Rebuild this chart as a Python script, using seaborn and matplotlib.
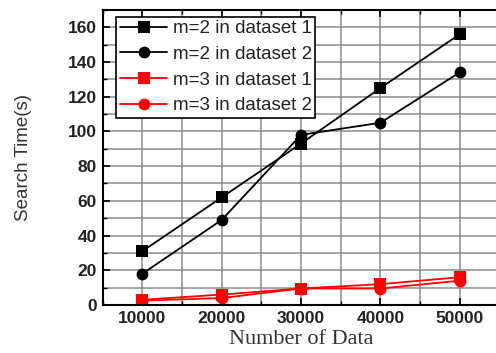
import matplotlib
matplotlib.use("Agg")
import matplotlib.pyplot as plt
import seaborn as sns
import pandas as pd
from matplotlib.ticker import MultipleLocator

num_data = [10000, 20000, 30000, 40000, 50000]
m2_ds1 = [31, 62, 93, 125, 156]
m2_ds2 = [18, 49, 98, 105, 134]
m3_ds1 = [3, 6, 9.5, 12, 16]
m3_ds2 = [2.5, 4, 9.5, 9.5, 14]
series_names = ["m=2 in dataset 1", "m=2 in dataset 2", "m=3 in dataset 1", "m=3 in dataset 2"]
xtick_labels = ["10000", "20000", "30000", "40000", "50000"]

rows = []
for name, vals in zip(series_names, [m2_ds1, m2_ds2, m3_ds1, m3_ds2]):
    for x, y in zip(num_data, vals):
        rows.append({"Number of Data": x, "Search Time(s)": y, "series": name})
df = pd.DataFrame(rows)

sns.set_theme(style="white")
plt.rcParams['font.family'] = ['Liberation Sans', 'DejaVu Sans']

fig = plt.figure(figsize=(4.96, 3.53), dpi=100)
ax = fig.add_axes([0.207, 0.136, 0.80, 0.836])

palette = {series_names[0]: "black", series_names[1]: "black",
           series_names[2]: "red", series_names[3]: "red"}
markers = {series_names[0]: "s", series_names[1]: "o",
           series_names[2]: "s", series_names[3]: "o"}

sns.lineplot(data=df, x="Number of Data", y="Search Time(s)", hue="series",
             style="series", palette=palette, markers=markers, dashes=False,
             markersize=8.5, linewidth=1.3, markeredgewidth=0, ax=ax,
             legend="full")

ax.set_xlim(5000, 55000)
ax.set_ylim(0, 170)
ax.set_xticks(num_data)
ax.set_xticklabels(xtick_labels)
ax.xaxis.set_minor_locator(MultipleLocator(5000))
ax.yaxis.set_major_locator(MultipleLocator(20))
ax.yaxis.set_minor_locator(MultipleLocator(10))

ax.grid(True, which="both", color="#8c8c8c", linewidth=1.1)
ax.set_axisbelow(True)

for s in ["left", "bottom", "top"]:
    ax.spines[s].set_visible(True)
    ax.spines[s].set_color("black")
    ax.spines[s].set_linewidth(1.5)
ax.spines["right"].set_visible(False)

ax.tick_params(axis="both", which="major", direction="in", length=5, width=1.2,
               top=True, left=True, bottom=True, color="black", pad=4)
ax.tick_params(axis="both", which="minor", direction="in", length=3, width=1.0,
               top=True, left=True, bottom=True, color="black")
for lbl in ax.get_xticklabels() + ax.get_yticklabels():
    lbl.set_fontweight("bold")
    lbl.set_fontsize(12.5)
    lbl.set_color("#222222")

ax.set_ylabel("Search Time(s)", fontsize=13.5, color="#333333", labelpad=26)
ax.set_xlabel("Number of Data", fontsize=16, family=["Liberation Serif"],
              color="#333333", labelpad=3)

leg = ax.legend(loc="upper left", bbox_to_anchor=(0.025, 0.99), fontsize=13.5,
                frameon=True, fancybox=False, edgecolor="black",
                handlelength=2.5, handletextpad=0.3, borderpad=0.2,
                labelspacing=0.45, borderaxespad=0.2, framealpha=1)
leg.get_frame().set_linewidth(1.2)
for t in leg.get_texts():
    t.set_color("#222222")

fig.savefig("out.png", dpi=100)
